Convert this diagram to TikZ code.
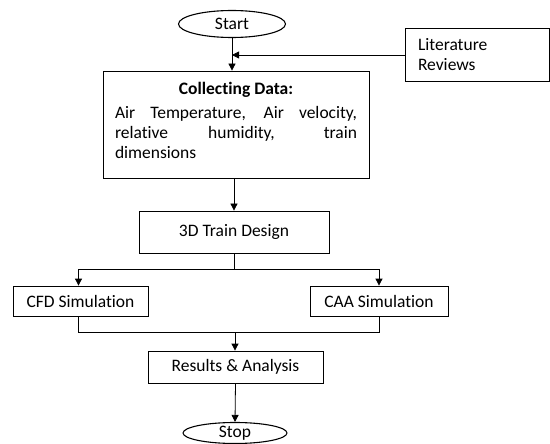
\documentclass[tikz,border=0pt]{standalone}
\usepackage{fontspec}
\setmainfont{Carlito}[Ligatures={NoCommon}]
\usetikzlibrary{shapes.geometric,arrows.meta}

\tikzset{
  box/.style={draw, rectangle, inner sep=0pt},
  term/.style={draw, ellipse, inner sep=0pt, line width=1.1pt},
  flow/.style={-{Triangle[width=7pt,length=7pt]}},
}

\begin{document}
\begin{tikzpicture}[x=1pt, y=-1pt, line width=0.8pt,
    font=\fontsize{17.5}{20}\selectfont]
    \useasboundingbox (0,0) rectangle (550,444);
    % terminals
    \node[term, minimum width=107pt, minimum height=27pt] (start) at (232,24) {Start};
    \node[term, minimum width=104pt, minimum height=21pt] (stop) at (235,433) {Stop};
    % side input
    \node[box, minimum width=144pt, minimum height=53pt, text width=118pt, align=left]
        (lit) at (477,55) {Literature\\Reviews};
    % main steps
    \node[box, minimum width=266pt, minimum height=107pt] (collect) at (236,124.5) {};
    \node[anchor=north, inner sep=0pt, text width=242pt, align=justify]
        (collecttxt) at ([yshift=-11pt]collect.north)
        {\hyphenpenalty=10000\exhyphenpenalty=10000
         \centerline{\textbf{Collecting Data:}}\vspace{4pt}
         Air Temperature, Air velocity, relative humidity, train dimensions\par};
    \node[box, minimum width=190pt, minimum height=42pt] (design) at (234,232) {3D Train Design};
    \node[box, minimum width=135pt, minimum height=30pt] (cfd) at (80.5,301) {CFD Simulation};
    \node[box, minimum width=138pt, minimum height=30pt] (caa) at (379,301) {CAA Simulation};
    \node[box, minimum width=175pt, minimum height=32pt] (results) at (235.5,367) {Results \& Analysis};
    % branch points
    \coordinate (fork) at (234,269);
    \coordinate (merge) at (235,332);
    % connectors
    \draw[flow] (start.south) -- (start.south |- collect.north);
    \draw[flow] (lit.west) -- (start.south |- lit.west);
    \draw[flow] (collect.south -| design.north) -- (design.north);
    \draw (design.south) -- (fork);
    \draw[flow] (fork) -| ([xshift=-2pt]cfd.north);
    \draw[flow] (fork) -| (caa.north);
    \draw ([xshift=-2pt]cfd.south) -- ([xshift=-2pt]cfd.south |- merge) -- (caa.south |- merge) -- (caa.south);
    \draw[flow] (merge) -- (merge |- results.north);
    \draw[flow] (results.south) -- (stop.north);
\end{tikzpicture}
\end{document}
